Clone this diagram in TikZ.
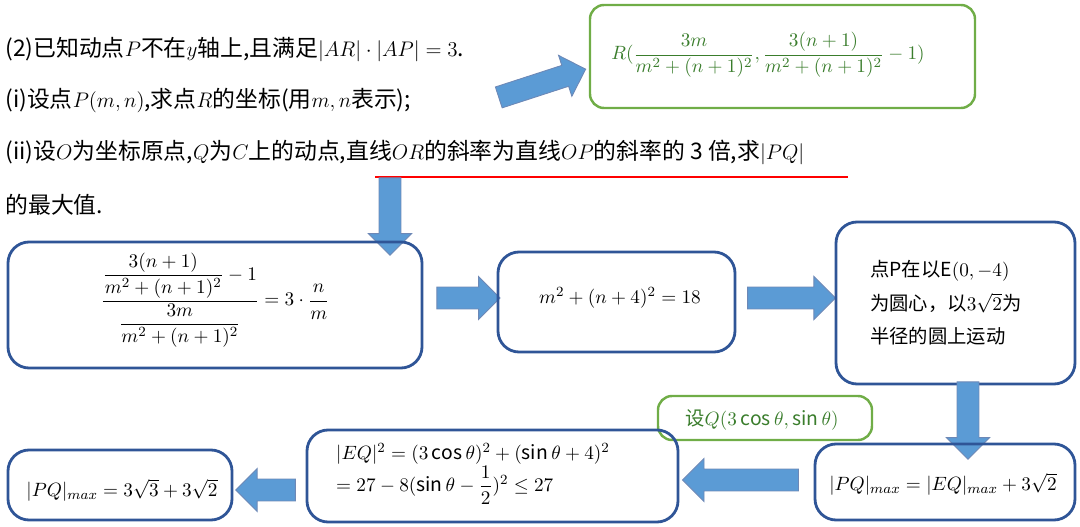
\documentclass[tikz,border=0pt]{standalone}
\usepackage{amsmath}
\usepackage{fontspec}
\setmainfont{Noto Sans CJK SC}
\usetikzlibrary{shapes.arrows}
\definecolor{bb}{HTML}{2F5597}
\definecolor{ab}{HTML}{5B9BD5}
\definecolor{gb}{HTML}{70AD47}
\definecolor{gt}{HTML}{3A7D2C}
\begin{document}
\begin{tikzpicture}[x=0.02cm,y=-0.02cm,
 box/.style={draw=bb,line width=1.6pt,rounded corners=12pt},
 gbox/.style={draw=gb,line width=1.4pt,rounded corners=8pt},
 arr/.style={single arrow,fill=ab,draw=bb!70,line width=0.5pt,inner xsep=0pt,inner ysep=6pt,single arrow head extend=6pt,minimum height=#1,single arrow head indent=0pt},
 txt/.style={anchor=west,font=\fontsize{13}{15}\selectfont,inner sep=0pt},
 bt/.style={font=\fontsize{11}{14}\selectfont}]
\useasboundingbox (0,0) rectangle (1080,527);
\node[txt] (l1) at (5,50) {(2)已知动点$P$不在$y$轴上,且满足$|AR|\cdot|AP|=3$.};
\node[txt] (l2) at (5,100) {(i)设点$P(m,n)$,求点$R$的坐标(用$m,n$表示);};
\node[txt] (l3) at (5,152) {(ii)设$O$为坐标原点,$Q$为$C$上的动点,直线$OR$的斜率为直线$OP$的斜率的 3 倍,求$|PQ|$};
\node[txt] (l4) at (5,205) {的最大值.};
\draw[red,line width=1.5pt] (375,177) coordinate (u1) -- (848,177) coordinate (u2);
\draw[gbox] (590,5) rectangle (975,108);
\node[text=gt,font=\fontsize{11}{14}\selectfont] (R) at (768,55) {$R(\dfrac{3m}{m^2+(n+1)^2},\dfrac{3(n+1)}{m^2+(n+1)^2}-1)$};
\node[arr=52pt,rotate=18] (a0) at (537,85) {};
\node[arr=44pt,rotate=-90] (a1) at (390,211) {};
\draw[box] (8,242) rectangle (422,368);
\node[bt] (b1) at (215,300) {$\dfrac{\dfrac{3(n+1)}{m^2+(n+1)^2}-1}{\dfrac{3m}{m^2+(n+1)^2}}=3\cdot\dfrac{n}{m}$};
\node[arr=36pt] (a2) at (463,298) {};
\draw[box] (498,252) rectangle (735,352);
\node[bt] (b2) at (620,298) {$m^2+(n+4)^2=18$};
\node[arr=50pt] (a3) at (786,298) {};
\draw[box] (836,222) rectangle (1075,384);
\node[font=\fontsize{11}{19}\selectfont,align=left,anchor=west] (b3) at (864,303) {点P在以E$(0,-4)$\\为圆心，以$3\sqrt2$为\\半径的圆上运动};
\node[arr=44pt,rotate=-90] (a4) at (968,415) {};
\draw[gbox] (658,396) rectangle (872,440);
\node[bt,text=gt] (g2) at (762,420) {设$Q(3\cos\theta,\sin\theta)$};
\draw[box] (815,444) rectangle (1075,520);
\node[bt] (b4) at (943,484) {$|PQ|_{max}=|EQ|_{max}+3\sqrt2$};
\node[arr=66pt,rotate=180] (a5) at (746,480) {};
\draw[box] (307,430) rectangle (678,522);
\node[bt,align=left,anchor=west] (b5) at (330,474) {$|EQ|^2=(3\cos\theta)^2+(\sin\theta+4)^2$\\$=27-8(\sin\theta-\dfrac12)^2\le27$};
\node[arr=34pt,rotate=180] (a6) at (271,490) {};
\draw[box] (8,450) rectangle (232,520);
\node[bt] (b6) at (122,490) {$|PQ|_{max}=3\sqrt3+3\sqrt2$};
\end{tikzpicture}
\end{document}
